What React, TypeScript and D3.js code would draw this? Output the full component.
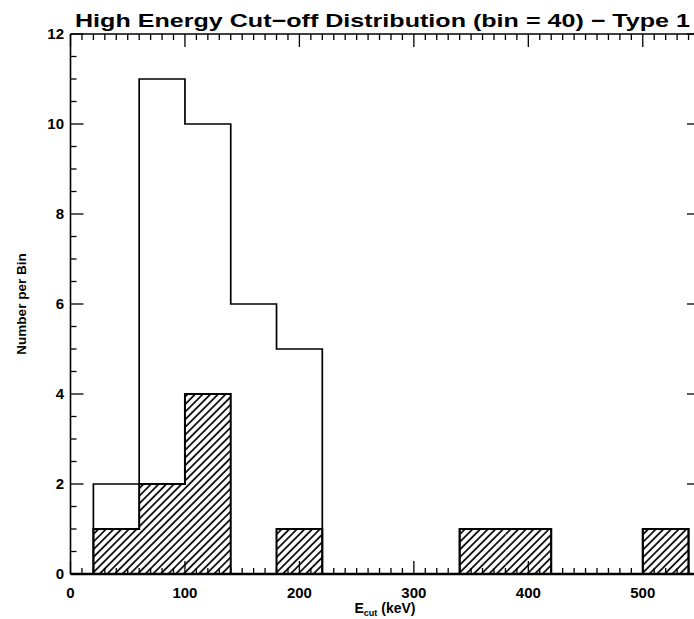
import React from "react";
import * as d3 from "d3";

const binStarts = [20, 60, 100, 140, 180, 220, 260, 300, 340, 380, 420, 460, 500];
const binWidth = 40;
const totalCounts = [2, 11, 10, 6, 5, 0, 0, 0, 1, 1, 0, 0, 1];
const hatchedCounts = [1, 2, 4, 0, 1, 0, 0, 0, 1, 1, 0, 0, 1];
const xMajorTicks = [0, 100, 200, 300, 400, 500];
const yMajorTicks = [0, 2, 4, 6, 8, 10, 12];
const titleText = "High Energy Cut\u2212off Distribution (bin = 40) \u2212 Type 1";
const yLabel = "Number per Bin";

const W = 694;
const H = 619;
const left = 70.5;
const right = 700;
const top = 34;
const bottom = 574;

export default function App() {
  const x = d3.scaleLinear().domain([0, 550]).range([left, right]);
  const y = d3.scaleLinear().domain([0, 12]).range([bottom, top]);

  const stepPts = (counts: number[]) => {
    const pts: [number, number][] = [[binStarts[0], 0]];
    counts.forEach((c, i) => {
      pts.push([binStarts[i], c]);
      pts.push([binStarts[i] + binWidth, c]);
    });
    pts.push([binStarts[binStarts.length - 1] + binWidth, 0]);
    return pts;
  };
  const line = d3
    .line<[number, number]>()
    .x((d) => x(d[0]))
    .y((d) => y(d[1]));

  const xMinor = d3.range(0, 551, 10).filter((v) => v % 100 !== 0);
  const yMinor = d3.range(0, 12.01, 0.5).filter((v) => v % 2 !== 0);

  const font = "'Liberation Sans', Arial, sans-serif";
  const majorLen = 13;
  const minorLen = 6;

  return (
    <svg width={W} height={H} style={{ position: "absolute", left: 0, top: 0, background: "#fff" }}>
      <defs>
        <pattern id="hatch" patternUnits="userSpaceOnUse" width={5.4} height={10} patternTransform="rotate(45)">
          <line x1={1} y1={-2} x2={1} y2={12} stroke="#000" strokeWidth={1.7} />
        </pattern>
      </defs>
      <rect x={0} y={0} width={W} height={H} fill="#fff" />

      {hatchedCounts.map((c, i) =>
        c > 0 ? (
          <rect
            key={"h" + i}
            x={x(binStarts[i])}
            y={y(c)}
            width={x(binStarts[i] + binWidth) - x(binStarts[i])}
            height={y(0) - y(c)}
            fill="url(#hatch)"
          />
        ) : null
      )}
      <path d={line(stepPts(hatchedCounts)) || ""} fill="none" stroke="#000" strokeWidth={2} />
      <path d={line(stepPts(totalCounts)) || ""} fill="none" stroke="#000" strokeWidth={1.7} />

      <line x1={left} x2={left} y1={top} y2={bottom} stroke="#000" strokeWidth={1.6} />
      <line x1={right} x2={right} y1={top} y2={bottom} stroke="#000" strokeWidth={1.6} />
      <line x1={left} x2={right} y1={top} y2={top} stroke="#000" strokeWidth={1.6} />
      <line x1={left} x2={right} y1={bottom} y2={bottom} stroke="#000" strokeWidth={2.5} />

      {xMajorTicks.map((v) => (
        <g key={"xm" + v}>
          <line x1={x(v)} x2={x(v)} y1={bottom} y2={bottom - majorLen} stroke="#000" strokeWidth={1.3} />
          <line x1={x(v)} x2={x(v)} y1={top} y2={top + majorLen} stroke="#000" strokeWidth={1.3} />
          <text x={x(v)} y={598} textAnchor="middle" fontFamily={font} fontWeight="bold" fontSize={15}>
            {v}
          </text>
        </g>
      ))}
      {xMinor.map((v) => (
        <g key={"xn" + v}>
          <line x1={x(v)} x2={x(v)} y1={bottom} y2={bottom - minorLen} stroke="#000" strokeWidth={1.3} />
          <line x1={x(v)} x2={x(v)} y1={top} y2={top + minorLen} stroke="#000" strokeWidth={1.3} />
        </g>
      ))}

      {yMajorTicks.map((v) => (
        <g key={"ym" + v}>
          <line x1={left} x2={left + majorLen} y1={y(v)} y2={y(v)} stroke="#000" strokeWidth={1.3} />
          <line x1={right} x2={right - majorLen} y1={y(v)} y2={y(v)} stroke="#000" strokeWidth={1.3} />
          <text x={64} y={y(v) + 5} textAnchor="end" fontFamily={font} fontWeight="bold" fontSize={15}>
            {v}
          </text>
        </g>
      ))}
      {yMinor.map((v) => (
        <g key={"yn" + v}>
          <line x1={left} x2={left + minorLen} y1={y(v)} y2={y(v)} stroke="#000" strokeWidth={1.3} />
          <line x1={right} x2={right - minorLen} y1={y(v)} y2={y(v)} stroke="#000" strokeWidth={1.3} />
        </g>
      ))}

      <text
        x={75}
        y={27}
        fontFamily={font}
        fontWeight="bold"
        fontSize={19}
        textLength={615}
        lengthAdjust="spacingAndGlyphs"
      >
        {titleText}
      </text>

      <text x={385} y={613} textAnchor="middle" fontFamily={font} fontWeight="bold" fontSize={14}>
        E
        <tspan fontSize={9} dy={3}>cut</tspan>
        <tspan dy={-3}> (keV)</tspan>
      </text>

      <text
        transform={`translate(26, ${(top + bottom) / 2}) rotate(-90)`}
        textAnchor="middle"
        fontFamily={font}
        fontWeight="bold"
        fontSize={13.5}
      >
        {yLabel}
      </text>
    </svg>
  );
}
